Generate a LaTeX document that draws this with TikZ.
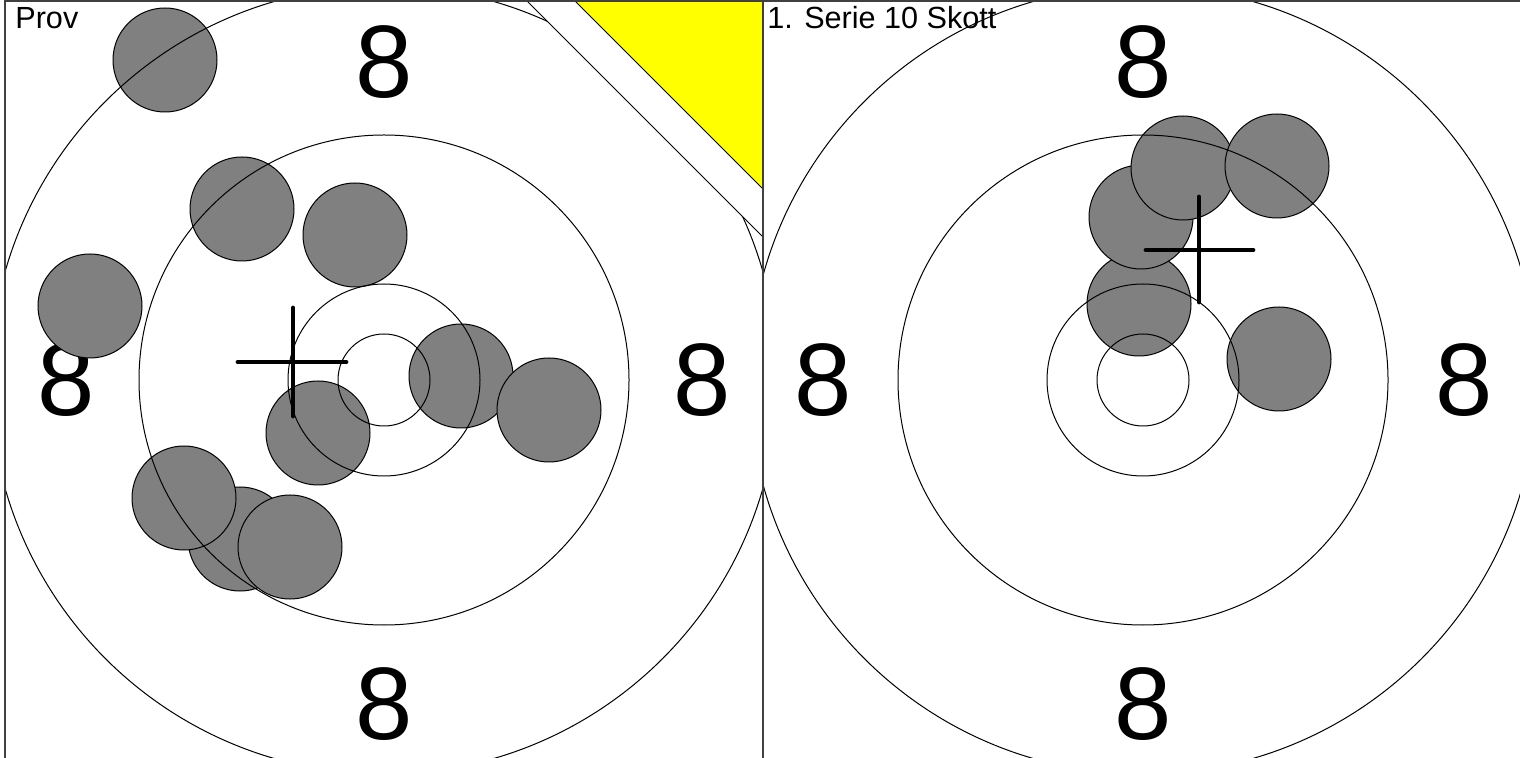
\documentclass[tikz,border=0pt]{standalone}
\usepackage{fontspec}
\setmainfont{Liberation Sans}
\usepackage{xcolor}
\definecolor{shotgray}{HTML}{808080}
\definecolor{marker}{HTML}{FFFF00}
\definecolor{frame}{HTML}{404040}
\tikzset{
  ring/.style={black,line width=0.5pt},
  shot/.style={fill=shotgray,draw=black,line width=0.5pt},
  aim/.style={black,line width=2.4pt,line cap=round},
  score/.style={font=\fontsize{51.5}{52}\selectfont,inner sep=0pt},
  heading/.style={font=\fontsize{15.3}{16}\selectfont,anchor=base west,inner sep=0pt}
}

\begin{document}
\begin{tikzpicture}[x=0.5pt,y=-0.5pt]
  \useasboundingbox (0,0) rectangle (1520,758);
  \foreach \dx/\dy/\nm in {0/-318/n,0/324/s,-318/0/w,318/0/e}
    \node[score] (prov\nm) at (384+\dx,380+\dy) {8};
  \foreach \dx/\dy/\nm in {0/-318/n,0/324/s,-320/0/w,321/0/e}
    \node[score] (serie\nm) at (1143+\dx,380+\dy) {8};
  \begin{scope}
    \clip (5,1) rectangle (763,760);
    \foreach \x/\y in {165/60,242/209,355/235,90/306,461/376,549/410,318/433,240/539,184/498,290/547}
      \draw[shot] (\x,\y) circle (52);
    \foreach \r in {46,96,245,394}
      \draw[ring] (384,380) circle (\r);
    \draw[aim] (238,362) -- (346,362) (293,308) -- (293,416);
    \filldraw[ring,fill=white] (527,1) -- (763,237) -- (763,1) -- cycle;
    \filldraw[ring,fill=marker] (575,1) -- (763,189) -- (763,1) -- cycle;
  \end{scope}
  \begin{scope}
    \clip (763,1) rectangle (1521,760);
    \foreach \x/\y in {1139/304,1141/217,1183/168,1277/166,1279/359}
      \draw[shot] (\x,\y) circle (52);
    \foreach \r in {46,96,245,394}
      \draw[ring] (1143,380) circle (\r);
    \draw[aim] (1146,250) -- (1253,250) (1199,197) -- (1199,302);
  \end{scope}
  \draw[frame,line width=1pt] (5,1) rectangle (763,760) (763,1) rectangle (1521,760);
  \node[heading] (provtitle) at (15,29) {Prov};
  \node[heading] (serietitle) at (767,29) {1. Serie 10 Skott};
\end{tikzpicture}
\end{document}
